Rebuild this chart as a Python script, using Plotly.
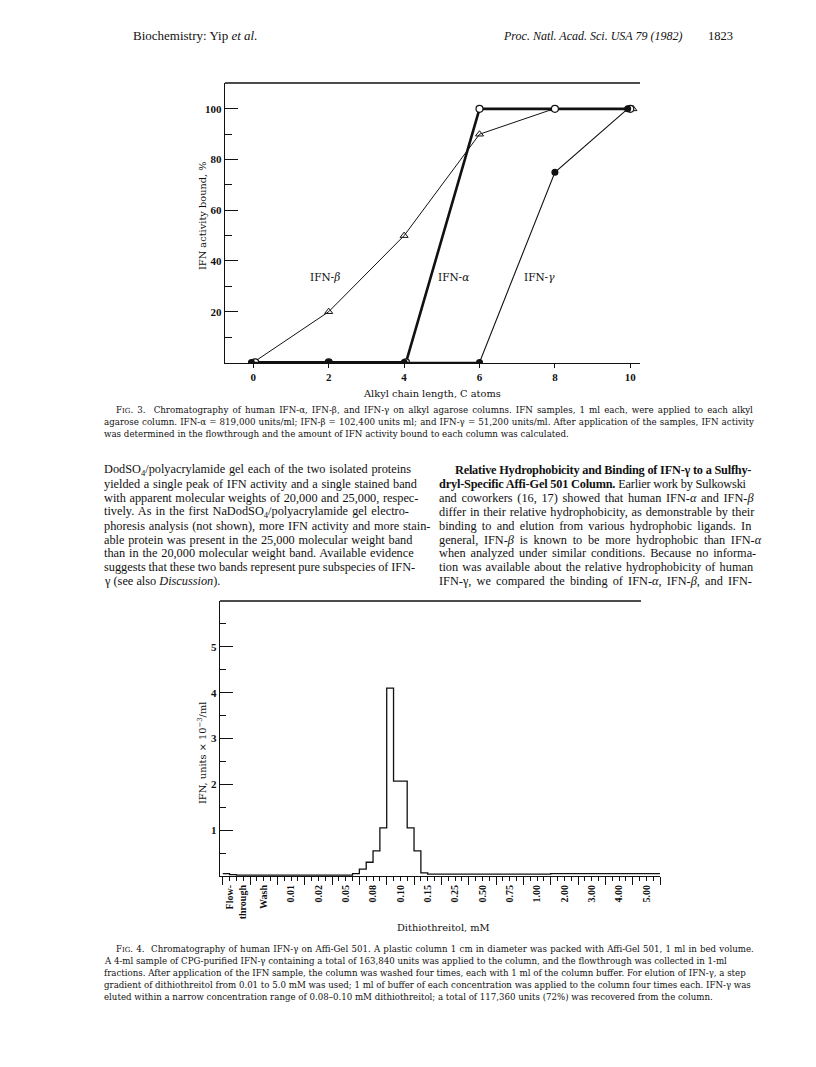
import plotly.graph_objects as go
import numpy as np

# page body has an 8px margin in the browser, so the figure is placed at (8, 8)
OFF = 8
W, H = 808, 1059


def px(x):
    return (x - OFF) / W


def py(y):
    return 1 - (y - OFF) / H


# ---------------- Fig. 3 data ----------------
chain_len_ticks = [0, 2, 4, 6, 8, 10]
beta_x = [0, 2, 4, 6, 7.97, 10.07]
beta_bound = [0, 20, 50, 90, 100, 100]
alpha_x = [0.05, 2, 4.05, 6, 8, 10]
alpha_bound = [0, 0, 0, 100, 100, 100]
gamma_x = [-0.05, 2, 4, 6, 8, 9.93]
gamma_bound = [0, 0, 0, 0, 75, 100]
fig3_yticks = [20, 40, 60, 80, 100]
fig3_yminor = [10, 30, 50, 70, 90]

# ---------------- Fig. 4 data ----------------
group_labels = ["Flow-<br>through", "Wash", "0.01", "0.02", "0.05", "0.08", "0.10",
                "0.15", "0.25", "0.50", "0.75", "1.00", "2.00", "3.00", "4.00", "5.00"]
fractions_per_group = 4
ifn_units = [
    0.05, 0.03, 0.02, 0.02,   # flow-through
    0.02, 0.02, 0.02, 0.02,   # wash
    0.02, 0.02, 0.02, 0.02,   # 0.01
    0.02, 0.02, 0.02, 0.02,   # 0.02
    0.02, 0.02, 0.02, 0.05,   # 0.05
    0.15, 0.30, 0.55, 1.05,   # 0.08
    4.10, 2.07, 2.07, 1.05,   # 0.10
    0.55, 0.07, 0.04, 0.04,   # 0.15
    0.04, 0.04, 0.04, 0.04,   # 0.25
    0.04, 0.04, 0.04, 0.04,   # 0.50
    0.04, 0.04, 0.04, 0.04,   # 0.75
    0.04, 0.04, 0.04, 0.04,   # 1.00
    0.05, 0.05, 0.05, 0.05,   # 2.00
    0.05, 0.05, 0.05, 0.05,   # 3.00
    0.05, 0.05, 0.05, 0.05,   # 4.00
    0.05, 0.05, 0.05, 0.05,   # 5.00
]
fig4_yticks = [1, 2, 3, 4, 5]
fig4_yminor = [0.5, 1.5, 2.5, 3.5, 4.5, 5.5]

SERIF = "DejaVu Serif"
TEXT = "Liberation Serif"
BLACK = "#111111"

fig = go.Figure()

# Fig. 3 traces
fig.add_trace(go.Scatter(x=beta_x, y=beta_bound, mode="lines+markers",
                         line=dict(color=BLACK, width=1),
                         marker=dict(symbol="triangle-up-open", size=7, color=BLACK, line=dict(width=1)),
                         xaxis="x", yaxis="y", showlegend=False))
fig.add_trace(go.Scatter(x=alpha_x, y=alpha_bound, mode="lines+markers",
                         line=dict(color=BLACK, width=2.6),
                         marker=dict(symbol="circle", size=7, color="white", line=dict(width=1.2, color=BLACK)),
                         xaxis="x", yaxis="y", showlegend=False))
fig.add_trace(go.Scatter(x=gamma_x, y=gamma_bound, mode="lines+markers",
                         line=dict(color=BLACK, width=1.1),
                         marker=dict(symbol="circle", size=7, color=BLACK),
                         xaxis="x", yaxis="y", showlegend=False))

# Fig. 4 trace (step histogram)
n_frac = len(ifn_units)
frac_edges = np.arange(n_frac + 1)
step_y = ifn_units + [ifn_units[-1]]
fig.add_trace(go.Scatter(x=frac_edges, y=step_y, mode="lines", line_shape="hv",
                         line=dict(color=BLACK, width=1.3),
                         xaxis="x2", yaxis="y2", showlegend=False))
n_groups = len(group_labels)
group_centers = [g * fractions_per_group + fractions_per_group / 2 for g in range(n_groups)]
group_edges = [g * fractions_per_group for g in range(n_groups + 1)]
fig.add_trace(go.Scatter(x=group_centers, y=[None] * n_groups, mode="markers",
                         xaxis="x3", yaxis="y2", showlegend=False, hoverinfo="skip"))

tickfont = dict(family=TEXT, size=11, color=BLACK, weight="bold")

fig.update_layout(
    width=W, height=H,
    margin=dict(l=0, r=0, t=0, b=0),
    paper_bgcolor="white", plot_bgcolor="white",
    xaxis=dict(domain=[px(225), px(640)], range=[-0.751, 10.257], anchor="y",
               tickmode="array", tickvals=chain_len_ticks, ticks="outside", ticklen=4,
               tickcolor=BLACK, showline=True, linecolor=BLACK, linewidth=1.4,
               showgrid=False, zeroline=False, tickfont=tickfont),
    yaxis=dict(domain=[py(363), py(83)], range=[-0.237, 110.2], anchor="x",
               tickmode="array", tickvals=fig3_yticks, ticks="inside", ticklen=13,
               tickcolor=BLACK, tickwidth=1.2,
               minor=dict(tickvals=fig3_yminor, ticks="inside", ticklen=7, tickcolor=BLACK, tickwidth=1.2),
               showline=True, linecolor=BLACK, linewidth=1.4,
               showgrid=False, zeroline=False, tickfont=tickfont),
    xaxis2=dict(domain=[px(220), px(660)], range=[-0.4, 64.0], anchor="y2",
                tickmode="array", tickvals=group_edges, ticks="outside", ticklen=8,
                tickcolor=BLACK, tickwidth=1.2, showticklabels=False,
                minor=dict(tickmode="linear", tick0=0, dtick=1, ticks="outside", ticklen=4,
                           tickcolor=BLACK, tickwidth=1),
                showline=True, linecolor=BLACK, linewidth=1.4,
                showgrid=False, zeroline=False),
    xaxis3=dict(domain=[px(220), px(660)], range=[-0.4, 64.0], anchor="y2", overlaying="x2",
                tickmode="array", tickvals=group_centers, ticktext=group_labels,
                tickangle=-90, ticks="", showline=False, showgrid=False, zeroline=False,
                ticklabelstandoff=6, tickfont=dict(family=TEXT, size=10, color=BLACK, weight="bold")),
    yaxis2=dict(domain=[py(876), py(601)], range=[0, 6.0], anchor="x2",
                tickmode="array", tickvals=fig4_yticks, ticks="inside", ticklen=13,
                tickcolor=BLACK, tickwidth=1.2,
                minor=dict(tickvals=fig4_yminor, ticks="inside", ticklen=6, tickcolor=BLACK, tickwidth=1.2),
                showline=True, linecolor=BLACK, linewidth=1.4,
                showgrid=False, zeroline=False, tickfont=tickfont),
)

# top border lines of both charts
fig.add_shape(type="line", xref="x domain", yref="y domain", x0=0, x1=1, y0=1, y1=1,
              line=dict(color=BLACK, width=1.4))
fig.add_shape(type="line", xref="paper", yref="y2 domain", x0=px(220), x1=px(641), y0=1, y1=1,
              line=dict(color=BLACK, width=1.4))

annotations = []


def add_text(x, y, text, size, family=TEXT, anchor="left", angle=0, ws=0.0, ls=0.0):
    style = ""
    if ws:
        style += f"word-spacing:{ws:.2f}px;"
    if ls:
        style += f"letter-spacing:{ls:.2f}px;"
    if style:
        text = f"<span style='{style}'>{text}</span>"
    annotations.append(dict(x=px(x), y=py(y), xref="paper", yref="paper", text=text,
                            showarrow=False, xanchor=anchor, yanchor="middle",
                            textangle=angle, font=dict(family=family, size=size, color=BLACK)))


# Fig. 3 series labels (data coordinates)
for lbl, lx in [("IFN-<i>β</i>", 1.9), ("IFN-<i>α</i>", 5.3), ("IFN-<i>γ</i>", 7.59)]:
    annotations.append(dict(x=lx, y=33.8, xref="x", yref="y", text=lbl, showarrow=False,
                            font=dict(family=SERIF, size=10.5, color=BLACK)))

# axis titles
add_text(202, 216, "IFN activity bound, %", 9.8, SERIF, "center", -90)
add_text(432, 394, "Alkyl chain length, C atoms", 9.8, SERIF, "center")
add_text(202, 753, "IFN, units × 10<sup>−3</sup>/ml", 9.8, SERIF, "center", -90)
add_text(443, 927, "Dithiothreitol, mM", 9.8, SERIF, "center")

# header
add_text(131, 36, "Biochemistry: Yip <i>et al.</i>", 13, TEXT, "left")
add_text(684, 36, "<i>Proc. Natl. Acad. Sci. USA 79 (1982)</i>", 12, TEXT, "right")
add_text(735, 36, "1823", 12.5, TEXT, "right")

# Fig. 3 caption
sc = "<span style='font-size:7px'>IG</span>"
cap3 = [
    (114, 1.3, f"F{sc}. 3.  Chromatography of human IFN-α, IFN-β, and IFN-γ on alkyl agarose columns. IFN samples, 1 ml each, were applied to each alkyl"),
    (102, 0.35, "agarose column. IFN-α = 819,000 units/ml; IFN-β = 102,400 units ml; and IFN-γ = 51,200 units/ml. After application of the samples, IFN activity"),
    (102, 0.0, "was determined in the flowthrough and the amount of IFN activity bound to each column was calculated."),
]
for i, (x0, ws, t) in enumerate(cap3):
    add_text(x0, 410 + 12 * i, t, 8.7, SERIF, ws=ws)

# body text columns (justified with per-line word / letter spacing)
left_col = [
    "DodSO<sub>4</sub>/polyacrylamide gel each of the two isolated proteins",
    "yielded a single peak of IFN activity and a single stained band",
    "with apparent molecular weights of 20,000 and 25,000, respec-",
    "tively. As in the first NaDodSO<sub>4</sub>/polyacrylamide gel electro-",
    "phoresis analysis (not shown), more IFN activity and more stain-",
    "able protein was present in the 25,000 molecular weight band",
    "than in the 20,000 molecular weight band. Available evidence",
    "suggests that these two bands represent pure subspecies of IFN-",
    "γ (see also <i>Discussion</i>).",
]
left_ws = [0.75, 0.6, 0.5, 1.1, 0.75, 0.65, 0.75, -0.3, 0.0]
left_ls = [0, 0, 0, 0, 0, 0, 0, 0, 0]
right_col = [
    "<b>Relative Hydrophobicity and Binding of IFN-γ to a Sulfhy-</b>",
    "<b>dryl-Specific Affi-Gel 501 Column.</b> Earlier work by Sulkowski",
    "and coworkers (16, 17) showed that human IFN-<i>α</i> and IFN-<i>β</i>",
    "differ in their relative hydrophobicity, as demonstrable by their",
    "binding to and elution from various hydrophobic ligands. In",
    "general, IFN-<i>β</i> is known to be more hydrophobic than IFN-<i>α</i>",
    "when analyzed under similar conditions. Because no informa-",
    "tion was available about the relative hydrophobicity of human",
    "IFN-γ, we compared the binding of IFN-<i>α</i>, IFN-<i>β</i>, and IFN-",
]
right_ws = [0.0, 0.0, 1.6, 0.75, 2.2, 2.6, 1.8, 1.1, 2.1]
right_ls = [-0.21, -0.18, 0, 0, 0, 0, 0, 0, 0]
for i, t in enumerate(left_col):
    add_text(102, 470 + 13.9 * i, t, 12.3, TEXT, ws=left_ws[i], ls=left_ls[i])
for i, t in enumerate(right_col):
    add_text(453 if i == 0 else 437, 470 + 13.9 * i, t, 12.3, TEXT, ws=right_ws[i], ls=right_ls[i])

# Fig. 4 caption
cap4 = [
    (114, 0.5, f"F{sc}. 4.  Chromatography of human IFN-γ on Affi-Gel 501. A plastic column 1 cm in diameter was packed with Affi-Gel 501, 1 ml in bed volume."),
    (102, 0.0, "A 4-ml sample of CPG-purified IFN-γ containing a total of 163,840 units was applied to the column, and the flowthrough was collected in 1-ml"),
    (102, 0.0, "fractions. After application of the IFN sample, the column was washed four times, each with 1 ml of the column buffer. For elution of IFN-γ, a step"),
    (102, 0.0, "gradient of dithiothreitol from 0.01 to 5.0 mM was used; 1 ml of buffer of each concentration was applied to the column four times each. IFN-γ was"),
    (102, 0.0, "eluted within a narrow concentration range of 0.08–0.10 mM dithiothreitol; a total of 117,360 units (72%) was recovered from the column."),
]
for i, (x0, ws, t) in enumerate(cap4):
    add_text(x0, 949 + 12 * i, t, 8.65, SERIF, ws=ws)

fig.update_layout(annotations=annotations)

fig.write_html("out.html")
